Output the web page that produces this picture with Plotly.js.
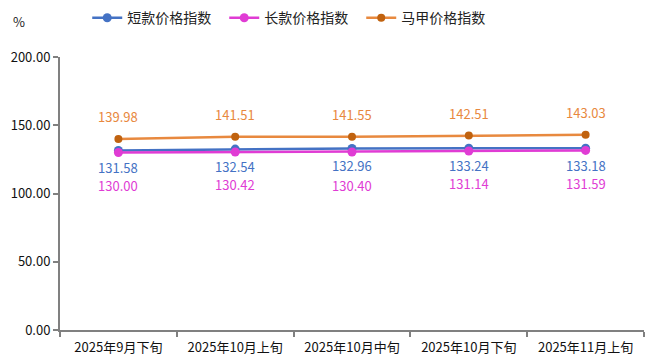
<!DOCTYPE html>
<html><head><meta charset="utf-8">
<script src="https://cdn.plot.ly/plotly-3.0.1.min.js"></script>
<style>body{margin:0;background:#fff}#c{width:651px;height:364px}</style>
</head><body><div id="c"></div>
<script>
const categories = ["2025年9月下旬","2025年10月上旬","2025年10月中旬","2025年10月下旬","2025年11月上旬"];
const shortIdx = [131.58,132.54,132.96,133.24,133.18];
const longIdx = [130.00,130.42,130.40,131.14,131.59];
const vestIdx = [139.98,141.51,141.55,142.51,143.03];
const yTicks = [0,50,100,150,200];

const font = "'Noto Sans CJK SC', 'Microsoft YaHei', sans-serif";
const C = {blue: "#4472C4", mag: "#E03CD4", orangeLine: "#E8893F", orangeMk: "#C0620F", orangeTxt: "#E8883E"};

const traces = [
  {x: categories, y: shortIdx, name: "短款价格指数", type: "scatter", mode: "lines+markers",
   line: {color: C.blue, width: 2.5}, marker: {color: C.blue, size: 9}},
  {x: categories, y: longIdx, name: "长款价格指数", type: "scatter", mode: "lines+markers",
   line: {color: C.mag, width: 2.5}, marker: {color: C.mag, size: 9}},
  {x: categories, y: vestIdx, name: "马甲价格指数", type: "scatter", mode: "lines+markers",
   line: {color: C.orangeLine, width: 2.5}, marker: {color: C.orangeMk, size: 8}}
];

function labels(vals, color, yshift) {
  return vals.map((v, i) => ({x: categories[i], y: v, xref: "x", yref: "y", text: v.toFixed(2),
    showarrow: false, yshift: yshift, font: {size: 13, family: font, color: color}}));
}

const annotations = [].concat(
  labels(shortIdx, C.blue, -17),
  labels(longIdx, C.mag, -33),
  labels(vestIdx, C.orangeTxt, 22),
  [{text: "%", xref: "paper", yref: "paper", x: -0.07, y: 1.13, xanchor: "center", yanchor: "middle",
    showarrow: false, font: {size: 13, family: font, color: "#222"}}]
);

const layout = {
  width: 651, height: 364,
  margin: {l: 60, r: 7, t: 57, b: 34},
  paper_bgcolor: "#fff", plot_bgcolor: "#fff",
  font: {family: font, color: "#222", size: 12},
  showlegend: true,
  legend: {orientation: "h", xref: "container", yref: "container", x: 0.134, xanchor: "left", y: 0.95, yanchor: "middle",
           font: {size: 14, family: font, color: "#222"}, entrywidth: 92, itemwidth: 30},
  xaxis: {type: "category", range: [-0.5, 4.5], autorange: false, tickson: "boundaries", ticks: "outside", ticklen: 5, tickwidth: 2, tickcolor: "#808080",
          showline: true, linecolor: "#808080", linewidth: 2, showgrid: false, zeroline: false,
          ticklabelstandoff: 4, tickfont: {size: 13, family: font, color: "#111"}},
  yaxis: {range: [0, 200], autorange: false, tickvals: yTicks, ticktext: yTicks.map(v => v.toFixed(2)),
          ticks: "outside", ticklen: 5, tickwidth: 2, tickcolor: "#808080",
          showline: true, linecolor: "#808080", linewidth: 2, showgrid: false, zeroline: false,
          tickfont: {size: 13, family: font, color: "#111"}},
  annotations: annotations
};
Plotly.newPlot("c", traces, layout, {displayModeBar: false, staticPlot: true});
</script></body></html>
